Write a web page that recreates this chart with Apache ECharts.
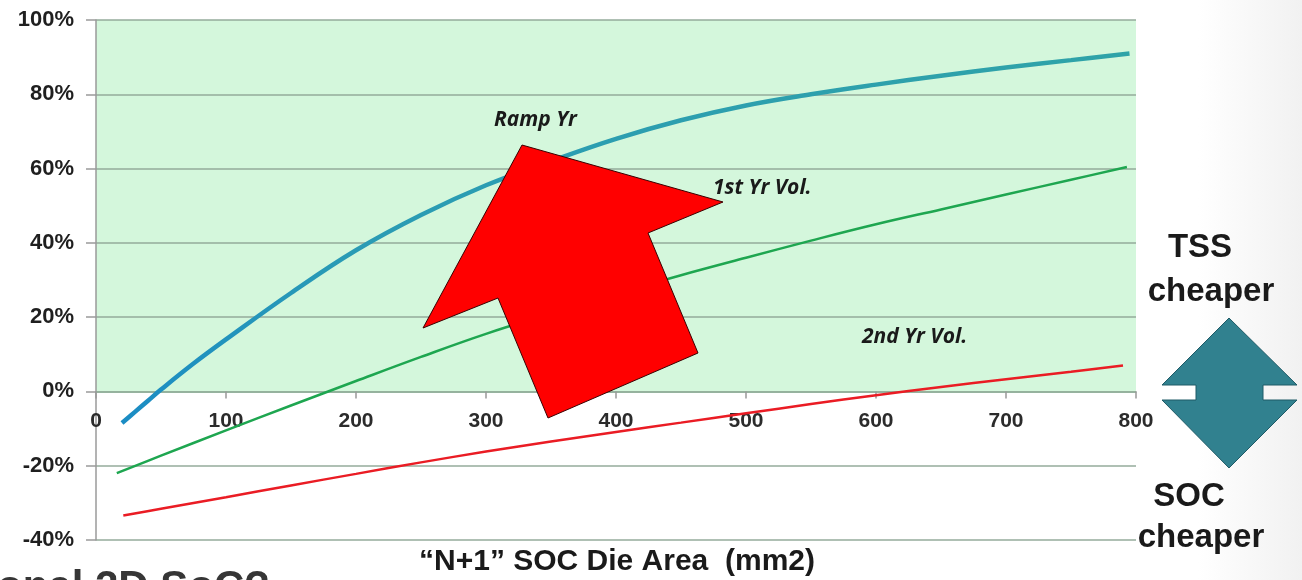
<!DOCTYPE html>
<html>
<head>
<meta charset="utf-8">
<script src="https://cdn.jsdelivr.net/npm/echarts@6/dist/echarts.min.js"></script>
<style>
  html, body { margin: 0; padding: 0; }
  body { width: 1302px; height: 580px; overflow: hidden;
         background: linear-gradient(90deg, #ffffff 0%, #ffffff 92%, #f1f1f1 100%); }
  #chart { width: 1302px; height: 580px; }
</style>
</head>
<body>
<div id="chart"></div>
<script>
// Die area (mm2) sample points and cost advantage (%) for each volume scenario
const rampX   = [20, 30, 40, 50, 75, 100, 150, 200, 250, 300, 350, 400, 450, 500, 550, 600, 650, 700, 750, 795];
const rampY   = [-8.5, -5.5, -2.5, 0.5, 7.5, 14, 26.5, 38, 47.5, 55.5, 62, 68, 73, 77, 80, 82.6, 85, 87.2, 89.2, 91];

const firstX  = [16, 50, 100, 150, 200, 250, 300, 350, 400, 450, 500, 550, 600, 650, 700, 750, 793];
const firstY  = [-22, -17.3, -10.5, -3.8, 2.8, 9.3, 15.5, 21, 26.3, 31.3, 36, 40.6, 45, 49, 53, 57, 60.4];

const secondX = [21, 50, 100, 150, 200, 250, 300, 350, 400, 450, 500, 550, 600, 650, 700, 750, 790];
const secondY = [-33.4, -31.6, -28.5, -25.3, -22.2, -19.1, -16.2, -13.5, -10.9, -8.4, -5.9, -3.4, -1, 1.2, 3.3, 5.3, 7];

// Region where the TSS option is cheaper (above break-even)
const tssZoneX = [0, 800];
const tssZoneY = [0, 100];

const xTicks = { min: 0, max: 800, step: 100 };
const yTicks = { min: -40, max: 100, step: 20 };

const pairs = (xs, ys) => xs.map((x, i) => [x, ys[i]]);

const gridBox = { left: 96, right: 166, top: 20, bottom: 40 };
const gridHeight = 580 - gridBox.top - gridBox.bottom;
// lift the category axis up to the break-even (0%) line
const zeroOffset = -gridHeight * (0 - yTicks.min) / (yTicks.max - yTicks.min);

const chart = echarts.init(document.getElementById('chart'), null, { renderer: 'canvas' });

const sans = 'Liberation Sans, Arial, sans-serif';
const noteFont = { fontFamily: '"Open Sans", Lato, sans-serif', fontStyle: 'italic', fontWeight: 'bold', fontSize: 21, fill: '#1a1a1a' };
const sideFont = { fontFamily: sans, fontWeight: 'bold', fontSize: 33, fill: '#1a1a1a', align: 'center', verticalAlign: 'middle' };

chart.setOption({
  animation: false,
  backgroundColor: 'transparent',
  grid: Object.assign({ containLabel: false }, gridBox),
  xAxis: {
    type: 'value', min: xTicks.min, max: xTicks.max, interval: xTicks.step,
    position: 'bottom', offset: zeroOffset,
    axisLine: { show: true, onZero: false, lineStyle: { color: '#8fae98', width: 1.5 } },
    axisTick: { show: true, length: 7, lineStyle: { color: '#999999', width: 1.5 } },
    axisLabel: { margin: 19, fontFamily: sans, fontWeight: 'bold', fontSize: 21, color: '#2b2b2b' },
    splitLine: { show: false }
  },
  yAxis: {
    type: 'value', min: yTicks.min, max: yTicks.max, interval: yTicks.step,
    axisLine: { show: true, lineStyle: { color: '#9a9a9a', width: 1.5 } },
    axisTick: { show: true, length: 10, lineStyle: { color: '#9a9a9a', width: 1.5 } },
    axisLabel: { margin: 22, formatter: '{value}%', fontFamily: sans, fontWeight: 'bold', fontSize: 22, color: '#1f1f1f' },
    splitLine: { show: true, lineStyle: { color: '#94ab9b', width: 1.5 } }
  },
  series: [
    {
      name: 'TSS cheaper zone',
      type: 'custom',
      z: -1,
      silent: true,
      data: [[tssZoneX[0], tssZoneY[0], tssZoneX[1], tssZoneY[1]]],
      renderItem: (params, api) => {
        const p0 = api.coord([api.value(0), api.value(3)]);
        const p1 = api.coord([api.value(2), api.value(1)]);
        return { type: 'rect', shape: { x: p0[0], y: p0[1], width: p1[0] - p0[0], height: p1[1] - p0[1] },
                 style: { fill: '#d4f7dc' } };
      }
    },
    {
      name: 'Ramp Yr', type: 'line', smooth: 0.4, showSymbol: false, z: 4,
      data: pairs(rampX, rampY),
      lineStyle: { width: 4.5, color: { type: 'linear', x: 0, y: 1, x2: 1, y2: 0,
        colorStops: [{ offset: 0, color: '#1b8cc4' }, { offset: 0.25, color: '#2a9bb5' }, { offset: 1, color: '#2fa3a8' }] } }
    },
    {
      name: '1st Yr Vol.', type: 'line', smooth: 0.4, showSymbol: false, z: 3,
      data: pairs(firstX, firstY),
      lineStyle: { width: 2.5, color: '#1ea650' }
    },
    {
      name: '2nd Yr Vol.', type: 'line', smooth: 0.4, showSymbol: false, z: 3,
      data: pairs(secondX, secondY),
      lineStyle: { width: 2.5, color: '#ea1c24' }
    }
  ],
  graphic: [
    // big red arrow pointing up-left
    { type: 'polygon', z: 10,
      shape: { points: [[522, 145], [723, 202], [648, 233], [698, 353], [548, 418], [498, 298], [423, 328]] },
      style: { fill: '#ff0000', stroke: '#3a0000', lineWidth: 1 } },
    { type: 'text', z: 11, left: 494, top: 110, style: Object.assign({ text: 'Ramp Yr' }, noteFont) },
    { type: 'text', z: 11, left: 713, top: 178, style: Object.assign({ text: '1st Yr Vol.' }, noteFont) },
    { type: 'text', z: 11, left: 862, top: 327, style: Object.assign({ text: '2nd Yr Vol.' }, noteFont) },
    // double-headed teal diamond
    { type: 'polygon', z: 10,
      shape: { points: [[1229, 318], [1297, 385], [1263, 385], [1263, 400], [1297, 400], [1229, 468],
                        [1162, 400], [1196, 400], [1196, 385], [1162, 385]] },
      style: { fill: '#31818f', stroke: '#1f5a66', lineWidth: 1 } },
    { type: 'text', z: 11, x: 1200, y: 248, style: Object.assign({}, sideFont, { text: 'TSS' }) },
    { type: 'text', z: 11, x: 1211, y: 292, style: Object.assign({}, sideFont, { text: 'cheaper' }) },
    { type: 'text', z: 11, x: 1189, y: 497, style: Object.assign({}, sideFont, { text: 'SOC' }) },
    { type: 'text', z: 11, x: 1201, y: 538, style: Object.assign({}, sideFont, { text: 'cheaper' }) },
    // axis title
    { type: 'text', z: 11, x: 617, y: 562, style: Object.assign({}, sideFont, { text: '\u201CN+1\u201D SOC Die Area  (mm2)', fontSize: 30 }) },
    // slide heading running off the bottom edge
    { type: 'text', z: 11, x: -3, y: 567, style: { text: 'onal 2D SoC?', fontFamily: sans,
      fontWeight: 'bold', fontSize: 42, fill: '#363636', verticalAlign: 'top' } }
  ]
});
</script>
</body>
</html>
